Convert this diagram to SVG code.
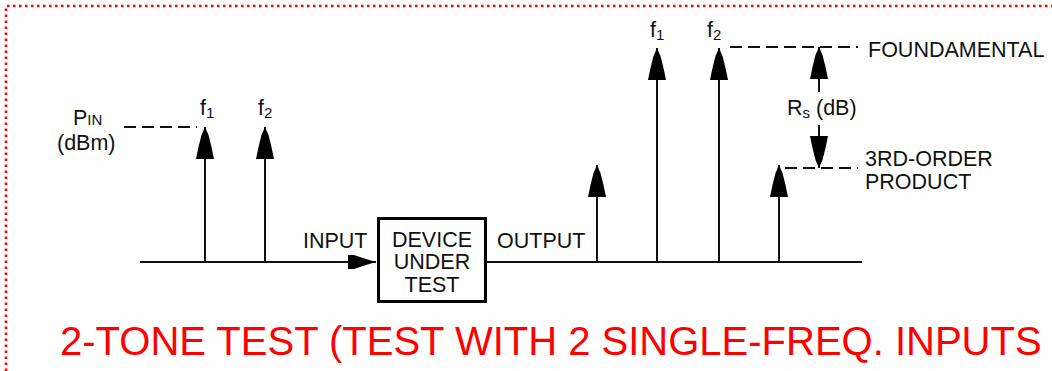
<svg xmlns="http://www.w3.org/2000/svg" width="1052" height="371" viewBox="0 0 1052 371">
<style>
.t{font-family:"Liberation Sans",Arial,Helvetica,sans-serif;font-size:21.5px;fill:#111}
.s{font-size:15px}
.ln{stroke:#111;stroke-width:2;fill:none}
.ds{stroke:#111;stroke-width:2;fill:none;stroke-dasharray:12,6}
.hd{fill:#000}
</style>
<defs>
<marker id="ah" viewBox="0 -9 32 18" refX="32" refY="0" markerWidth="32" markerHeight="18" markerUnits="userSpaceOnUse" orient="auto">
<path class="hd" d="M32,0 L24,-3.5 L12,-6.5 L0,-9 L0,9 L12,6.5 L24,3.5 Z"/>
</marker>
<marker id="ahi" viewBox="0 -8 28 16" refX="28" refY="0" markerWidth="28" markerHeight="16" markerUnits="userSpaceOnUse" orient="auto">
<path class="hd" d="M28,0 L18,-3 L6,-7 L0,-7 L0,7 L6,7 L18,3 Z"/>
</marker>
</defs>
<rect width="1052" height="371" fill="#fff"/>
<path d="M6,371 V6 H1052" stroke="#f00" stroke-width="2.5" stroke-dasharray="2.5,3.5" fill="none"/>

<g id="connectors">
<line class="ln" x1="140" y1="262" x2="376" y2="262" marker-end="url(#ahi)"/>
<line class="ln" x1="487" y1="262" x2="862" y2="262"/>
<line class="ln" x1="205" y1="262" x2="205" y2="127" marker-end="url(#ah)"/>
<line class="ln" x1="265" y1="262" x2="265" y2="127" marker-end="url(#ah)"/>
<line class="ln" x1="597" y1="262" x2="597" y2="165" marker-end="url(#ah)"/>
<line class="ln" x1="657" y1="262" x2="657" y2="48" marker-end="url(#ah)"/>
<line class="ln" x1="719" y1="262" x2="719" y2="48" marker-end="url(#ah)"/>
<line class="ln" x1="779" y1="262" x2="779" y2="165" marker-end="url(#ah)"/>
<line class="ds" x1="124" y1="127" x2="197" y2="127"/>
<line class="ds" x1="730" y1="47" x2="858" y2="47"/>
<line class="ds" x1="785" y1="168" x2="858" y2="168"/>
<line class="ln" x1="819" y1="92" x2="819" y2="47" marker-end="url(#ah)"/>
<line class="ln" x1="819" y1="125" x2="819" y2="168" marker-end="url(#ah)"/>
</g>

<g id="pin">
<text class="t" x="73" y="125">P<tspan class="s">IN</tspan></text>
<text class="t" x="57" y="150">(dBm)</text>
</g>
<g id="in-f1"><text class="t" x="200" y="115">f<tspan class="s" dy="3">1</tspan></text></g>
<g id="in-f2"><text class="t" x="258" y="115">f<tspan class="s" dy="3">2</tspan></text></g>
<g id="input-label"><text class="t" x="303" y="248">INPUT</text></g>
<g id="dut">
<rect x="378.5" y="218.5" width="107" height="83" fill="#fff" stroke="#000" stroke-width="3"/>
<text class="t" x="432" y="247" text-anchor="middle">DEVICE</text>
<text class="t" x="432" y="269" text-anchor="middle">UNDER</text>
<text class="t" x="432" y="292" text-anchor="middle">TEST</text>
</g>
<g id="output-label"><text class="t" x="497" y="248">OUTPUT</text></g>
<g id="out-f1"><text class="t" x="650" y="37">f<tspan class="s" dy="3">1</tspan></text></g>
<g id="out-f2"><text class="t" x="707" y="37">f<tspan class="s" dy="3">2</tspan></text></g>
<g id="fundamental"><text class="t" x="868" y="57">FOUNDAMENTAL</text></g>
<g id="rs"><text class="t" x="787" y="115">R<tspan class="s" dy="3">s</tspan><tspan dy="-3"> (dB)</tspan></text></g>
<g id="third-order">
<text class="t" x="865" y="166">3RD-ORDER</text>
<text class="t" x="865" y="189">PRODUCT</text>
</g>
<g id="title"><text x="60" y="355" font-family="'Liberation Sans',Arial,sans-serif" font-size="40" fill="#f00">2-TONE TEST (TEST WITH 2 SINGLE-FREQ. INPUTS</text></g>
</svg>
